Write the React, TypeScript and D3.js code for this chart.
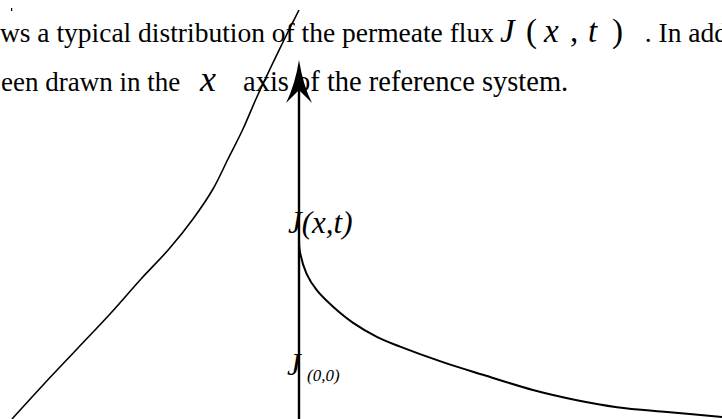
import React from 'react';
import * as d3 from 'd3';

const W = 722;
const H = 419;

// Flux profile for x < 0 (rising toward the origin)
const upstreamX = [-0.6785, -0.6028, -0.5248, -0.4468, -0.3735, -0.3073, -0.2506, -0.2033, -0.1678, -0.1324, -0.1017, -0.0686, -0.0343, 0.0];
const upstreamJ = [0.0, 0.0856, 0.1711, 0.2567, 0.3423, 0.4156, 0.489, 0.5623, 0.6357, 0.709, 0.7824, 0.8557, 0.9291, 1.0];

// Flux profile for x > 0 (decaying from J(x,t) at the origin)
const downstreamX = [0, 0.002, 0.018, 0.042, 0.08, 0.128, 0.184, 0.239, 0.34, 0.435, 0.553, 0.657, 0.752, 0.87, 1.0];
const downstreamJ = [0.44, 0.41, 0.355, 0.315, 0.275, 0.235, 0.201, 0.177, 0.139, 0.108, 0.071, 0.046, 0.029, 0.017, 0.005];

// Vertical axis extent and label levels
const axisTopJ = 0.878;
const labelJxt = 0.455;
const labelJ00 = 0.107;

// Inline symbol J(x,t) in the running text: glyphs and their x offsets
const mathGlyphs = ['J', '(', 'x', ',', 't', ')'];
const mathOffsets = [0, 26, 44, 70, 88, 112];

const serif = '"Liberation Serif", "Times New Roman", serif';

export default function App() {
  const x = d3.scaleLinear().domain([0, 1]).range([299, 722]);
  const y = d3.scaleLinear().domain([0, 1]).range([419, 10]);

  const line = d3
    .line<[number, number]>()
    .x((d) => x(d[0]))
    .y((d) => y(d[1]))
    .curve(d3.curveCatmullRom.alpha(0.5));

  const up = line(upstreamX.map((v, i) => [v, upstreamJ[i]] as [number, number])) || '';
  const down = line(downstreamX.map((v, i) => [v, downstreamJ[i]] as [number, number])) || '';

  const ax = x(0);
  const tipY = y(axisTopJ);
  const head = `M${ax},${tipY} Q${ax - 4},${tipY + 25} ${ax - 13},${tipY + 43} L${ax},${tipY + 30} L${ax + 13},${tipY + 43} Q${ax + 4},${tipY + 25} ${ax},${tipY} Z`;

  return (
    <svg
      width={W}
      height={H}
      viewBox={`0 0 ${W} ${H}`}
      style={{ position: 'absolute', left: 0, top: 0, background: '#fff' }}
    >
      <rect width={W} height={H} fill="#fff" />

      {/* body text */}
      <g fontFamily={serif} fontSize={27.5} fill="#000">
        <rect x={11} y={8} width={1.2} height={3} fill="#000" />
        <text x={494} y={42} textAnchor="end">ws a typical distribution of the permeate flux</text>
        <g fontSize={33}>
          {mathGlyphs.map((g, i) => (
            <text
              key={i}
              x={500 + mathOffsets[i]}
              y={42}
              fontStyle={g === '(' || g === ')' || g === ',' ? 'normal' : 'italic'}
            >
              {g}
            </text>
          ))}
        </g>
        <text x={728} y={42} textAnchor="end">. In add</text>

        <text x={1} y={91} fontSize={27}>een drawn in the</text>
        <text x={200} y={91} fontStyle="italic" fontSize={36}>x</text>
        <text x={243} y={91} fontSize={28.5}>axis of the reference system.</text>
      </g>

      {/* curves */}
      <path d={up} fill="none" stroke="#000" strokeWidth={1.6} />
      <path d={down} fill="none" stroke="#000" strokeWidth={2} />

      {/* vertical axis with arrow */}
      <line x1={ax} x2={ax} y1={y(0)} y2={tipY + 30} stroke="#000" strokeWidth={2.4} />
      <path d={head} fill="#000" />

      {/* axis labels */}
      <g fontFamily={serif} fontStyle="italic" fill="#000">
        <text x={288} y={y(labelJxt)} fontSize={31}>J(x,t)</text>
        <text x={287} y={y(labelJ00)} fontSize={31}>J</text>
        <text x={307} y={y(labelJ00) + 6} fontSize={17}>(0,0)</text>
      </g>
    </svg>
  );
}
